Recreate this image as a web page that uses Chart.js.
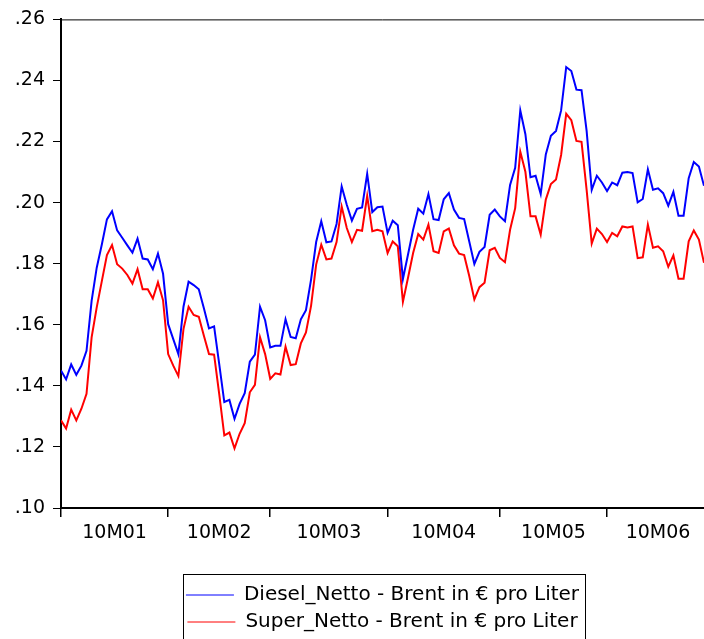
<!DOCTYPE html>
<html>
<head>
<meta charset="utf-8">
<script src="https://cdn.jsdelivr.net/npm/chart.js@4/dist/chart.umd.min.js"></script>
<style>
  html, body { margin: 0; padding: 0; background: #fff; }
  #wrap { width: 704px; height: 639px; }
</style>
</head>
<body>
<div id="wrap"><canvas id="c" width="704" height="639"></canvas></div>
<script>
// Daily observations (5-day weeks), January to June 2010
const monthLabels = ['10M01', '10M02', '10M03', '10M04', '10M05', '10M06'];
const obsPerMonth = [21, 20, 23, 22, 21, 20];
const yTicks = [0.10, 0.12, 0.14, 0.16, 0.18, 0.20, 0.22, 0.24, 0.26];

// Diesel_Netto - Brent in € pro Liter
const diesel = [
  0.1450, 0.1421, 0.1470, 0.1436, 0.1466, 0.1515, 0.1678, 0.1787, 0.1863, 0.1945,
  0.1972, 0.1909, 0.1885, 0.1860, 0.1836, 0.1882, 0.1817, 0.1814, 0.1782, 0.1833,
  0.1767, 0.1602, 0.1553, 0.1504, 0.1659, 0.1741, 0.1730, 0.1716, 0.1654, 0.1588,
  0.1595, 0.1472, 0.1347, 0.1354, 0.1292, 0.1341, 0.1376, 0.1479, 0.1502, 0.1659,
  0.1615, 0.1526, 0.1531, 0.1531, 0.1618, 0.1560, 0.1556, 0.1618, 0.1648, 0.1748,
  0.1871, 0.1939, 0.1870, 0.1873, 0.1930, 0.2053, 0.1993, 0.1941, 0.1980, 0.1984,
  0.2094, 0.1969, 0.1985, 0.1987, 0.1901, 0.1941, 0.1926, 0.1750, 0.1830, 0.1911,
  0.1980, 0.1964, 0.2028, 0.1946, 0.1943, 0.2011, 0.2031, 0.1977, 0.1950, 0.1946,
  0.1873, 0.1799, 0.1839, 0.1855, 0.1960, 0.1977, 0.1955, 0.1939, 0.2058, 0.2114,
  0.2302, 0.2224, 0.2083, 0.2088, 0.2028, 0.2158, 0.2219, 0.2235, 0.2302, 0.2444,
  0.2431, 0.2370, 0.2368, 0.2235, 0.2042, 0.2088, 0.2066, 0.2038, 0.2066, 0.2057,
  0.2098, 0.2100, 0.2097, 0.2001, 0.2012, 0.2109, 0.2042, 0.2047, 0.2031, 0.1990,
  0.2035, 0.1957, 0.1957, 0.2080, 0.2133, 0.2118, 0.2055
];

// Super_Netto - Brent in € pro Liter
const superBenzin = [
  0.1287, 0.1260, 0.1322, 0.1287, 0.1325, 0.1374, 0.1559, 0.1657, 0.1743, 0.1828,
  0.1861, 0.1798, 0.1784, 0.1763, 0.1735, 0.1782, 0.1716, 0.1716, 0.1686, 0.1739,
  0.1680, 0.1504, 0.1466, 0.1432, 0.1586, 0.1659, 0.1632, 0.1626, 0.1564, 0.1504,
  0.1502, 0.1374, 0.1238, 0.1247, 0.1195, 0.1243, 0.1278, 0.1379, 0.1403, 0.1559,
  0.1504, 0.1423, 0.1441, 0.1437, 0.1528, 0.1468, 0.1471, 0.1539, 0.1575, 0.1662,
  0.1797, 0.1862, 0.1814, 0.1817, 0.1871, 0.1987, 0.1917, 0.1871, 0.1911, 0.1908,
  0.2022, 0.1906, 0.1911, 0.1906, 0.1835, 0.1873, 0.1857, 0.1675, 0.1754, 0.1835,
  0.1897, 0.1879, 0.1928, 0.1841, 0.1835, 0.1906, 0.1915, 0.1860, 0.1833, 0.1828,
  0.1760, 0.1683, 0.1723, 0.1738, 0.1844, 0.1852, 0.1819, 0.1805, 0.1911, 0.1982,
  0.2167, 0.2101, 0.1955, 0.1955, 0.1895, 0.2010, 0.2061, 0.2076, 0.2156, 0.2291,
  0.2270, 0.2202, 0.2199, 0.2042, 0.1866, 0.1915, 0.1897, 0.1871, 0.1901, 0.1890,
  0.1922, 0.1919, 0.1922, 0.1818, 0.1821, 0.1928, 0.1852, 0.1857, 0.1841, 0.1790,
  0.1827, 0.1751, 0.1751, 0.1873, 0.1909, 0.1879, 0.1803
];

// Month boundaries (tick marks) and month centres (labels) on the observation axis
const monthStarts = [];
let acc = 0;
obsPerMonth.forEach(n => { monthStarts.push(acc); acc += n; });
const lastObs = acc - 1;
const monthMids = monthStarts.map((s, k) => s + obsPerMonth[k] / 2);

const toPoints = arr => arr.map((v, i) => ({ x: i, y: v }));

const FONT = 'DejaVu Sans';

// Thin frame on the top side of the plot area
const framePlugin = {
  id: 'frame',
  afterDatasetsDraw(chart) {
    const { ctx, chartArea: a } = chart;
    ctx.save();
    ctx.strokeStyle = '#000';
    ctx.lineWidth = 1;
    ctx.beginPath();
    ctx.moveTo(a.left, a.top + 0.5);
    ctx.lineTo(a.right, a.top + 0.5);
    ctx.stroke();
    ctx.restore();
  }
};

// Box around the legend entries
const legendBoxPlugin = {
  id: 'legendBox',
  afterDraw(chart) {
    const lg = chart.legend;
    if (!lg || !lg.legendHitBoxes || !lg.legendHitBoxes.length) return;
    const hb = lg.legendHitBoxes;
    let l = Infinity, r = -Infinity, t = Infinity, b = -Infinity;
    hb.forEach(h => {
      l = Math.min(l, h.left);
      r = Math.max(r, h.left + h.width);
      t = Math.min(t, h.top);
      b = Math.max(b, h.top + h.height);
    });
    const ctx = chart.ctx;
    ctx.save();
    ctx.strokeStyle = '#000';
    ctx.lineWidth = 1;
    ctx.strokeRect(Math.round(l - 3) + 0.5, Math.round(t - 11) + 0.5,
                   Math.round(r - l + 9), Math.round(b - t + 20));
    ctx.restore();
  }
};

new Chart(document.getElementById('c'), {
  type: 'line',
  data: {
    datasets: [
      {
        label: 'Diesel_Netto - Brent in € pro Liter',
        data: toPoints(diesel),
        borderColor: '#0000ff',
        backgroundColor: '#0000ff',
        borderWidth: 2,
        pointRadius: 0,
        tension: 0,
        fill: false
      },
      {
        label: 'Super_Netto - Brent in € pro Liter',
        data: toPoints(superBenzin),
        borderColor: '#ff0000',
        backgroundColor: '#ff0000',
        borderWidth: 2,
        pointRadius: 0,
        tension: 0,
        fill: false
      }
    ]
  },
  options: {
    responsive: false,
    animation: false,
    devicePixelRatio: 1,
    layout: { padding: { top: 17, right: 0, bottom: -3, left: 0 } },
    plugins: {
      tooltip: { enabled: false },
      legend: {
        position: 'bottom',
        align: 'center',
        fullSize: false,
        labels: {
          usePointStyle: true,
          pointStyle: 'line',
          pointStyleWidth: 48,
          padding: 7,
          color: '#000',
          font: { family: FONT, size: 20 },
          generateLabels(chart) {
            return Chart.defaults.plugins.legend.labels.generateLabels(chart)
              .map(item => Object.assign(item, { lineWidth: 1 }));
          }
        }
      }
    },
    scales: {
      x: {
        type: 'linear',
        min: 0,
        max: lastObs,
        afterFit(scale) { scale.height = 70; },
        afterBuildTicks(scale) {
          scale.ticks = monthStarts.map(v => ({ value: v, edge: true }))
            .concat(monthMids.map((v, k) => ({ value: v, edge: false, name: monthLabels[k] })));
        },
        ticks: {
          autoSkip: false,
          maxRotation: 0,
          minRotation: 0,
          padding: 5,
          color: '#000',
          font: { family: FONT, size: 19 },
          callback(value, index, ticks) {
            const t = ticks[index];
            return t && !t.edge ? t.name : '';
          }
        },
        grid: {
          drawOnChartArea: false,
          drawTicks: true,
          tickLength: 9,
          lineWidth: 1.5,
          color(ctx) { return ctx.tick && ctx.tick.edge ? '#000' : 'rgba(0,0,0,0)'; }
        },
        border: { display: true, color: '#000', width: 2 }
      },
      y: {
        type: 'linear',
        min: yTicks[0],
        max: yTicks[yTicks.length - 1],
        afterFit(scale) { scale.width = 61; },
        afterBuildTicks(scale) {
          scale.ticks = yTicks.map(v => ({ value: v }));
        },
        ticks: {
          padding: 8,
          color: '#000',
          font: { family: FONT, size: 19 },
          callback(value) { return value.toFixed(2).replace(/^0/, ''); }
        },
        grid: {
          drawOnChartArea: false,
          drawTicks: true,
          tickLength: 8,
          lineWidth: 1,
          color: '#000'
        },
        border: { display: true, color: '#000', width: 2 }
      }
    }
  },
  plugins: [framePlugin, legendBoxPlugin]
});
</script>
</body>
</html>
